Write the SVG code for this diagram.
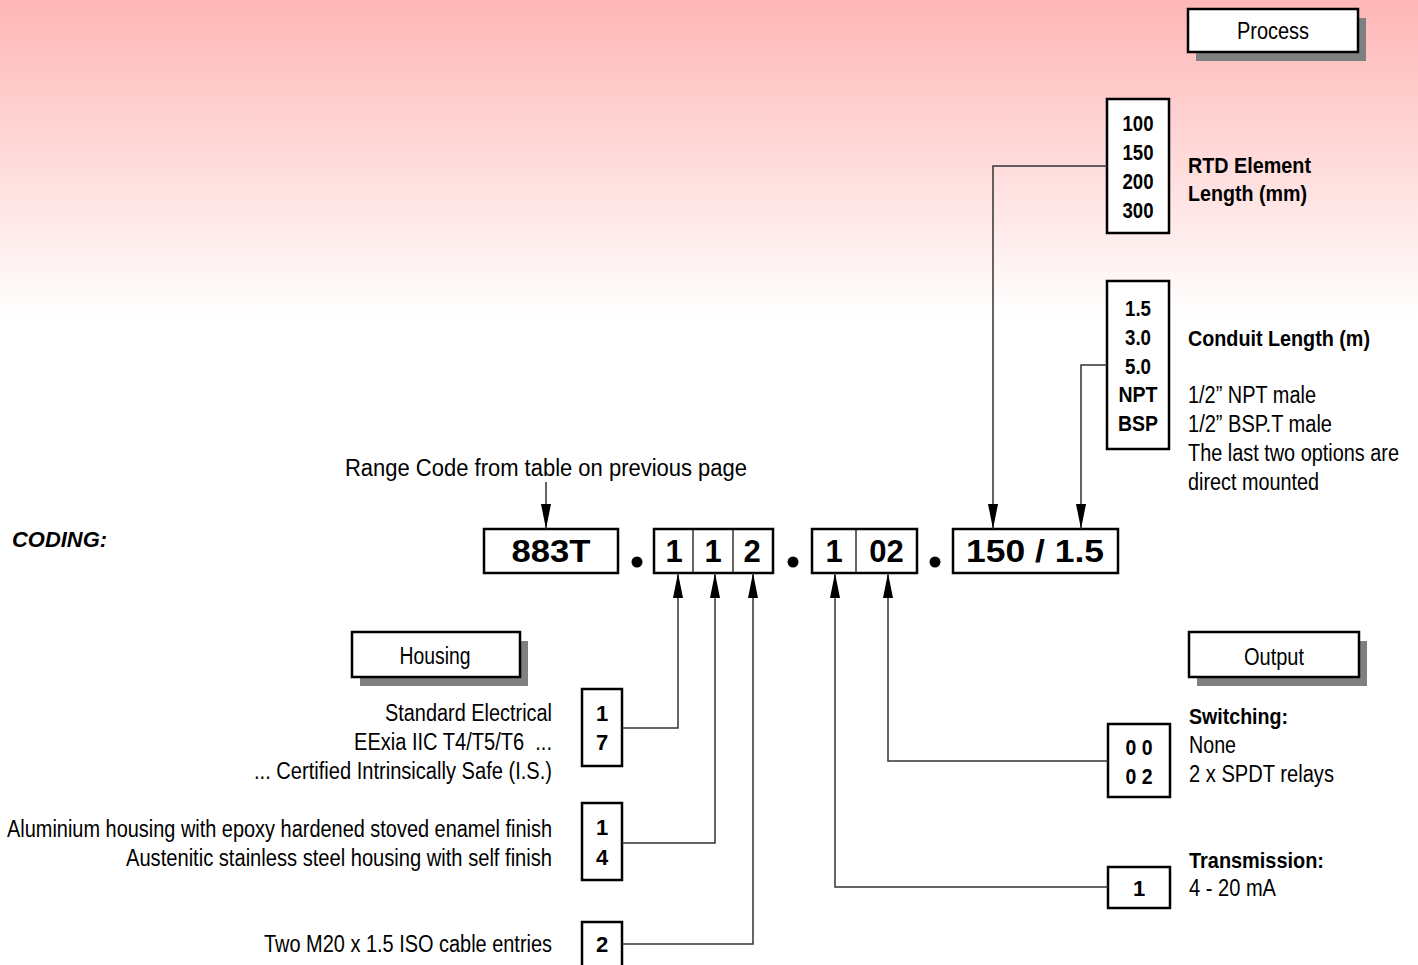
<svg xmlns="http://www.w3.org/2000/svg" width="1418" height="965" viewBox="0 0 1418 965">
<defs>
<linearGradient id="bg" x1="0" y1="0" x2="0" y2="965" gradientUnits="userSpaceOnUse">
<stop offset="0" stop-color="#ffb6b6"/>
<stop offset="0.33" stop-color="#ffffff"/>
<stop offset="1" stop-color="#ffffff"/>
</linearGradient>
<marker id="arr" viewBox="0 0 25 10" refX="25" refY="5" markerWidth="25" markerHeight="10" markerUnits="userSpaceOnUse" orient="auto">
<path d="M0,0 L25,5 L0,10 Z" fill="#000"/>
</marker>
</defs>
<style>
.box{fill:#fff;stroke:#000;stroke-width:2.5}
.thin{fill:none;stroke:#000;stroke-width:1.2}
.sh{fill:#808080}
.t{font-family:"Liberation Sans Narrow","Liberation Sans",Arial,sans-serif;font-size:23px;fill:#000}
.b{font-family:"Liberation Sans Narrow","Liberation Sans",Arial,sans-serif;font-size:22px;font-weight:bold;fill:#000}
.big{font-family:"Liberation Sans","Arial",sans-serif;font-size:31px;font-weight:bold;fill:#000}
.c{text-anchor:middle}
.ln{fill:none;stroke:#333;stroke-width:1.5}
.dot{fill:#000}
</style>
<rect x="0" y="0" width="1418" height="965" fill="url(#bg)"/>

<g id="coding-label">
<text class="b" x="12" y="547" font-size="23" font-style="italic" textLength="95" lengthAdjust="spacingAndGlyphs">CODING:</text>
</g>

<g id="range-label">
<text class="t" x="345" y="476" font-size="24" textLength="402" lengthAdjust="spacingAndGlyphs">Range Code from table on previous page</text>
</g>

<g id="code-883T">
<rect class="box" x="484" y="529" width="134" height="44"/>
<text class="big c" x="551" y="562" textLength="79" lengthAdjust="spacingAndGlyphs">883T</text>
</g>
<g id="dots">
<circle class="dot" cx="637" cy="562" r="5.5"/>
<circle class="dot" cx="793" cy="562" r="5.5"/>
<circle class="dot" cx="935" cy="562" r="5.5"/>
</g>
<g id="code-112">
<rect class="box" x="654" y="529" width="119" height="44"/>
<line class="thin" x1="693" y1="529" x2="693" y2="573"/>
<line class="thin" x1="733" y1="529" x2="733" y2="573"/>
<text class="big c" x="674" y="562">1</text>
<text class="big c" x="713" y="562">1</text>
<text class="big c" x="752" y="562">2</text>
</g>
<g id="code-102">
<rect class="box" x="812" y="529" width="105" height="44"/>
<line class="thin" x1="856" y1="529" x2="856" y2="573"/>
<text class="big c" x="834" y="562">1</text>
<text class="big c" x="886.5" y="562">02</text>
</g>
<g id="code-length">
<rect class="box" x="953" y="529" width="165" height="44"/>
<text class="big c" x="1035" y="562" textLength="138" lengthAdjust="spacingAndGlyphs">150 / 1.5</text>
</g>

<g id="process">
<rect class="sh" x="1196" y="18" width="170" height="43"/>
<rect class="box" x="1188" y="9" width="170" height="43"/>
<text class="t c" x="1273" y="39" textLength="72" lengthAdjust="spacingAndGlyphs">Process</text>
</g>

<g id="rtd">
<rect class="box" x="1107" y="99" width="62" height="134"/>
<text class="b c" x="1138" y="131" textLength="31" lengthAdjust="spacingAndGlyphs">100</text>
<text class="b c" x="1138" y="160" textLength="31" lengthAdjust="spacingAndGlyphs">150</text>
<text class="b c" x="1138" y="189" textLength="31" lengthAdjust="spacingAndGlyphs">200</text>
<text class="b c" x="1138" y="218" textLength="31" lengthAdjust="spacingAndGlyphs">300</text>
<text class="b" x="1188" y="173" textLength="123" lengthAdjust="spacingAndGlyphs">RTD Element</text>
<text class="b" x="1188" y="201" textLength="119" lengthAdjust="spacingAndGlyphs">Length (mm)</text>
</g>

<g id="conduit">
<rect class="box" x="1107" y="281" width="62" height="168"/>
<text class="b c" x="1138" y="316" textLength="26" lengthAdjust="spacingAndGlyphs">1.5</text>
<text class="b c" x="1138" y="345" textLength="26" lengthAdjust="spacingAndGlyphs">3.0</text>
<text class="b c" x="1138" y="374" textLength="26" lengthAdjust="spacingAndGlyphs">5.0</text>
<text class="b c" x="1138" y="402" textLength="39" lengthAdjust="spacingAndGlyphs">NPT</text>
<text class="b c" x="1138" y="431" textLength="40" lengthAdjust="spacingAndGlyphs">BSP</text>
<text class="b" x="1188" y="346" textLength="182" lengthAdjust="spacingAndGlyphs">Conduit Length (m)</text>
<text class="t" x="1188" y="403" textLength="128" lengthAdjust="spacingAndGlyphs">1/2” NPT male</text>
<text class="t" x="1188" y="432" textLength="144" lengthAdjust="spacingAndGlyphs">1/2” BSP.T male</text>
<text class="t" x="1188" y="461" textLength="211" lengthAdjust="spacingAndGlyphs">The last two options are</text>
<text class="t" x="1188" y="490" textLength="131" lengthAdjust="spacingAndGlyphs">direct mounted</text>
</g>

<g id="housing">
<rect class="sh" x="360" y="641" width="168" height="45"/>
<rect class="box" x="352" y="632" width="168" height="45"/>
<text class="t c" x="435" y="664" textLength="71" lengthAdjust="spacingAndGlyphs">Housing</text>
</g>

<g id="opt-17">
<rect class="box" x="582" y="689" width="40" height="77"/>
<text class="b c" x="602" y="721">1</text>
<text class="b c" x="602" y="750">7</text>
<text class="t" x="385" y="721" textLength="167" lengthAdjust="spacingAndGlyphs">Standard Electrical</text>
<text class="t" x="354" y="750" textLength="198" lengthAdjust="spacingAndGlyphs" xml:space="preserve">EExia IIC T4/T5/T6  ...</text>
<text class="t" x="254" y="779" textLength="298" lengthAdjust="spacingAndGlyphs">... Certified Intrinsically Safe (I.S.)</text>
</g>

<g id="opt-14">
<rect class="box" x="582" y="803" width="40" height="77"/>
<text class="b c" x="602" y="835">1</text>
<text class="b c" x="602" y="865">4</text>
<text class="t" x="7" y="837" textLength="545" lengthAdjust="spacingAndGlyphs">Aluminium housing with epoxy hardened stoved enamel finish</text>
<text class="t" x="126" y="866" textLength="426" lengthAdjust="spacingAndGlyphs">Austenitic stainless steel housing with self finish</text>
</g>

<g id="opt-2">
<rect class="box" x="582" y="922" width="40" height="48"/>
<text class="b c" x="602" y="952">2</text>
<text class="t" x="264" y="952" textLength="288" lengthAdjust="spacingAndGlyphs">Two M20 x 1.5 ISO cable entries</text>
</g>

<g id="output">
<rect class="sh" x="1197" y="641" width="170" height="45"/>
<rect class="box" x="1189" y="632" width="170" height="45"/>
<text class="t c" x="1274" y="665" textLength="60" lengthAdjust="spacingAndGlyphs">Output</text>
</g>

<g id="switching">
<rect class="box" x="1108" y="724" width="62" height="73"/>
<text class="b c" x="1139" y="755" textLength="27" lengthAdjust="spacingAndGlyphs" xml:space="preserve">0 0</text>
<text class="b c" x="1139" y="784" textLength="27" lengthAdjust="spacingAndGlyphs" xml:space="preserve">0 2</text>
<text class="b" x="1189" y="724" textLength="99" lengthAdjust="spacingAndGlyphs">Switching:</text>
<text class="t" x="1189" y="753" textLength="47" lengthAdjust="spacingAndGlyphs">None</text>
<text class="t" x="1189" y="782" textLength="145" lengthAdjust="spacingAndGlyphs">2 x SPDT relays</text>
</g>

<g id="transmission">
<rect class="box" x="1108" y="867" width="62" height="41"/>
<text class="b c" x="1139" y="896">1</text>
<text class="b" x="1189" y="868" textLength="135" lengthAdjust="spacingAndGlyphs">Transmission:</text>
<text class="t" x="1189" y="896" textLength="87" lengthAdjust="spacingAndGlyphs">4 - 20 mA</text>
</g>

<g id="connectors">
<path class="ln" d="M546,482 L546,529" marker-end="url(#arr)"/>
<path class="ln" d="M1107,166 L993,166 L993,529" marker-end="url(#arr)"/>
<path class="ln" d="M1107,365 L1081,365 L1081,529" marker-end="url(#arr)"/>
<path class="ln" d="M622,728 L678,728 L678,573" marker-end="url(#arr)"/>
<path class="ln" d="M622,843 L715,843 L715,573" marker-end="url(#arr)"/>
<path class="ln" d="M622,944 L753,944 L753,573" marker-end="url(#arr)"/>
<path class="ln" d="M1108,761 L888,761 L888,573" marker-end="url(#arr)"/>
<path class="ln" d="M1108,887 L835,887 L835,573" marker-end="url(#arr)"/>
</g>
</svg>
